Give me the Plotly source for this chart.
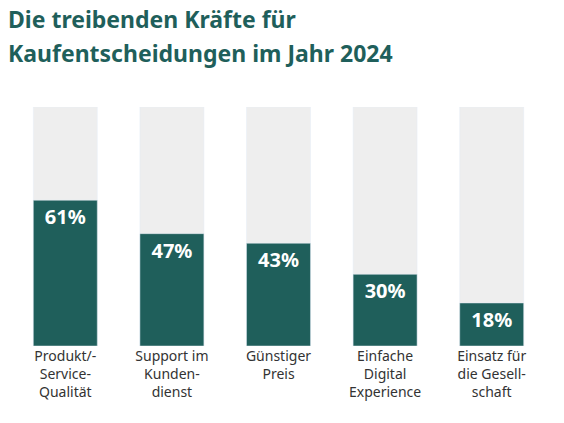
import plotly.graph_objects as go

# data
categories = ["Produkt/-<br>Service-<br>Qualität", "Support im<br>Kunden-<br>dienst",
              "Günstiger<br>Preis", "Einfache<br>Digital<br>Experience",
              "Einsatz für<br>die Gesell-<br>schaft"]
values = [61, 47, 43, 30, 18]
full = [100, 100, 100, 100, 100]
title_lines = ["Die treibenden Kräfte für", "Kaufentscheidungen im Jahr 2024"]

teal = "#1f5f5b"
font = "Noto Sans"

fig = go.Figure()
fig.add_trace(go.Bar(x=categories, y=full, marker_color="#eeeeee", width=0.6,
                     hoverinfo="skip"))
fig.add_trace(go.Bar(x=categories, y=values, marker_color=teal, width=0.6,
                     text=[f"{v}%" for v in values], textposition="inside",
                     insidetextanchor="end",
                     textfont=dict(color="white", size=20, family=font, weight="bold"),
                     textangle=0))

# title as two annotations so nothing is cut at the top
for i, line in enumerate(title_lines):
    fig.add_annotation(text=f"<b>{line}</b>", xref="paper", yref="paper",
                       x=-0.012, xanchor="left", y=1 + (88 - 34 * i) / 239, yanchor="middle",
                       showarrow=False, font=dict(size=23, color=teal, family=font))

fig.update_layout(
    width=564, height=423,
    barmode="overlay",
    showlegend=False,
    plot_bgcolor="white", paper_bgcolor="white",
    margin=dict(l=4, r=27, t=99, b=85),
    font=dict(family=font, color="#333333", size=14),
    xaxis=dict(showgrid=False, showline=False, ticks="", tickfont=dict(size=14)),
    yaxis=dict(visible=False, range=[0, 100]),
)

fig.write_html("out.html")
